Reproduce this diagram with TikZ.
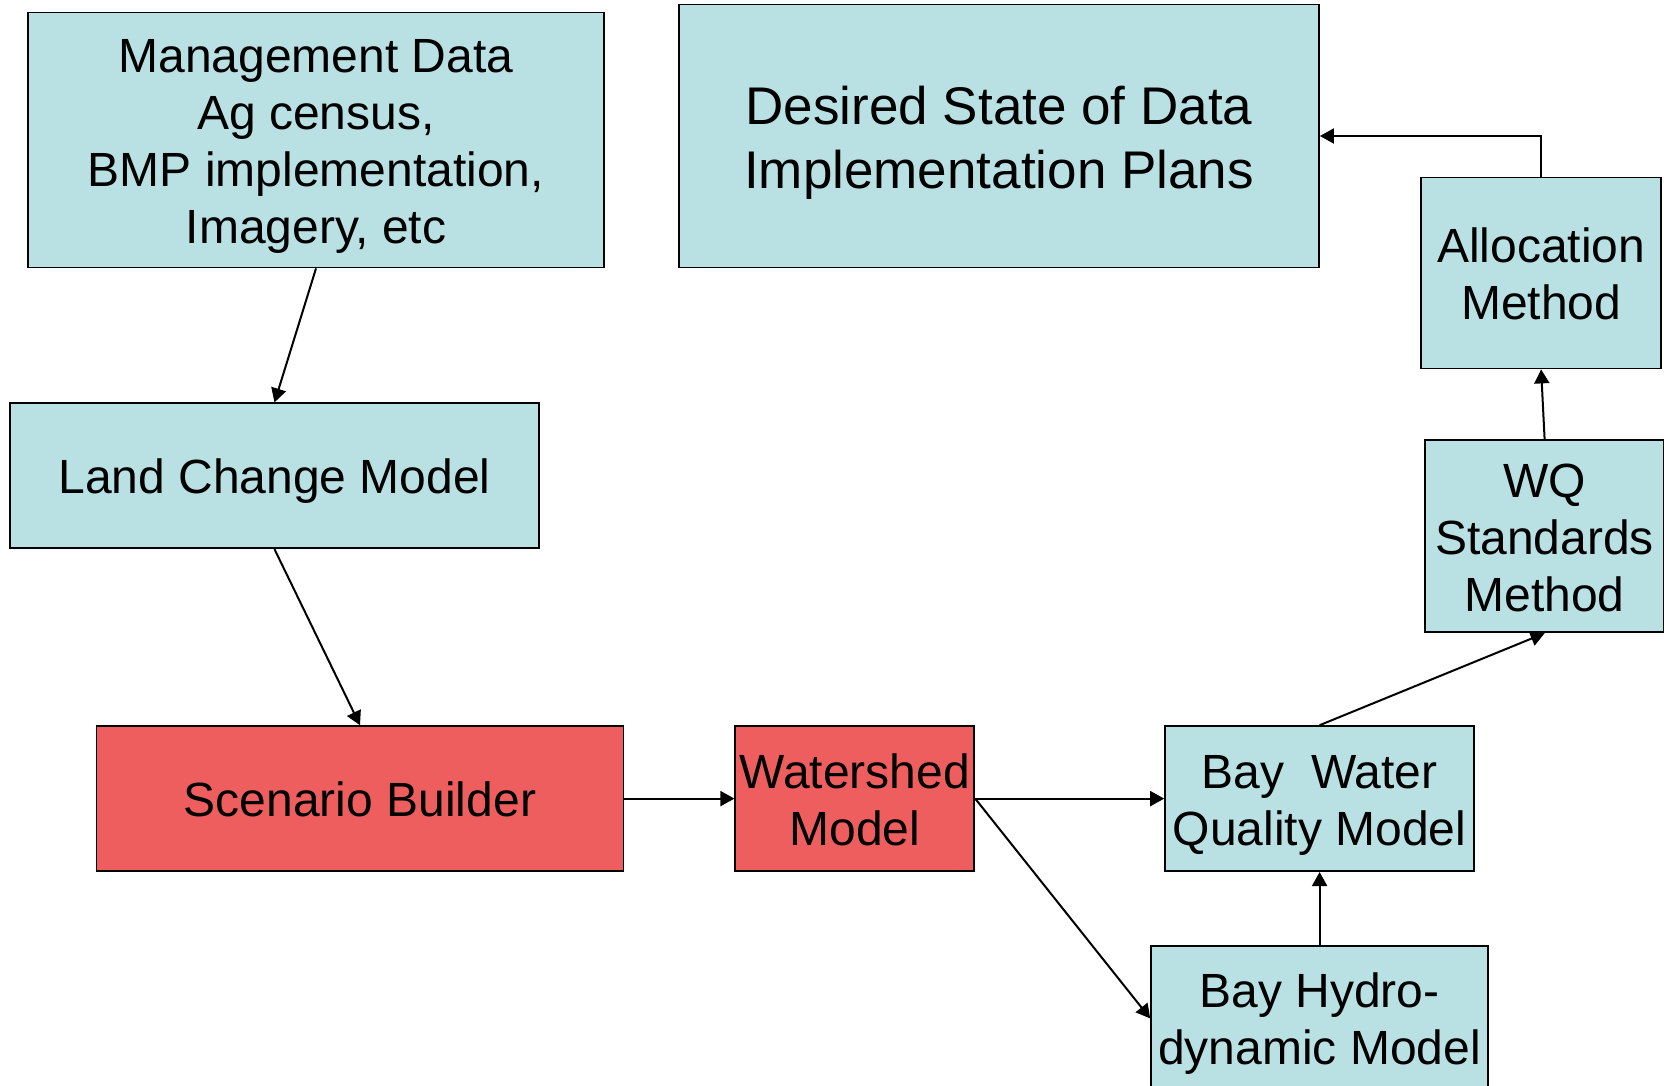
\documentclass[tikz,border=0pt]{standalone}
\usepackage{tikz}
\usepackage{xcolor}
\usepackage{fontspec}
\setmainfont{Liberation Sans}
\usetikzlibrary{arrows.meta, positioning}
\definecolor{modelblue}{RGB}{185,224,227}
\definecolor{modelred}{RGB}{239,94,94}
% struts that keep the text a little below the middle of each box
\newcommand{\hstrut}{\rule{0pt}{48pt}}
\newcommand{\dstrut}{\rule[-12pt]{0pt}{12pt}}
\tikzstyle{model} = [rectangle, minimum height=145pt, inner sep=2pt, text centered, align=center, draw=black, line width=1.8pt, fill=modelblue, font=\fontsize{48}{57}\selectfont]
\tikzstyle{core} = [model, fill=modelred]
\tikzstyle{arrow} = [line width=2pt, -{Triangle[length=14pt,width=15pt]}]

\begin{document}
\begin{tikzpicture}[x=1pt, y=1pt]
\useasboundingbox (0,0) rectangle (1664,-1085);

% Data sources - Top Row
\node (mgmt) [model, minimum width=576pt, minimum height=255pt] at (316,-140) {\hstrut Management Data\\Ag census,\\BMP implementation,\\Imagery, etc\dstrut};
\node (desired) [model, minimum width=640pt, minimum height=263pt, font=\fontsize{53}{64}\selectfont] at (999,-136) {\rule{0pt}{54pt}Desired State of Data\\Implementation Plans\rule[-13pt]{0pt}{13pt}};

% Land use chain
\node (land) [model, minimum width=529pt, below=134pt of mgmt, xshift=-41.5pt] {\hstrut Land Change Model\dstrut};
\node (scenario) [core, minimum width=527pt, below=176pt of land, xshift=85.5pt] {\hstrut Scenario Builder\dstrut};

% Models - Bottom Row
\node (watershed) [core, minimum width=239pt, right=110pt of scenario] {\hstrut Watershed\\Model\dstrut};
\node (baywq) [model, minimum width=309pt, right=189pt of watershed] {\hstrut Bay\ \ Water\\Quality Model\dstrut};
\node (hydro) [model, minimum width=337pt, below=73pt of baywq] {\hstrut Bay Hydro-\\dynamic Model\dstrut};

% Methods - Right Column
\node (wq) [model, minimum width=239pt, minimum height=192pt, above=92pt of baywq, xshift=225pt] {\hstrut WQ\\Standards\\Method\dstrut};
\node (alloc) [model, minimum width=240pt, minimum height=191pt, above=70pt of wq, xshift=-3.5pt] {\hstrut Allocation\\Method\dstrut};

% Arrows
\draw [arrow] (mgmt.south) -- (land.north);
\draw [arrow] (land.south) -- (scenario.north);
\draw [arrow] (scenario) -- (watershed);
\draw [arrow] (watershed) -- (baywq);
\draw [arrow] (watershed.east) -- (hydro.west);
\draw [arrow] (hydro) -- (baywq);
\draw [arrow] (baywq.north) -- (wq.south);
\draw [arrow] (wq.north) -- (alloc.south);
\draw [arrow] (alloc.north) |- (desired.east);

\end{tikzpicture}
\end{document}
